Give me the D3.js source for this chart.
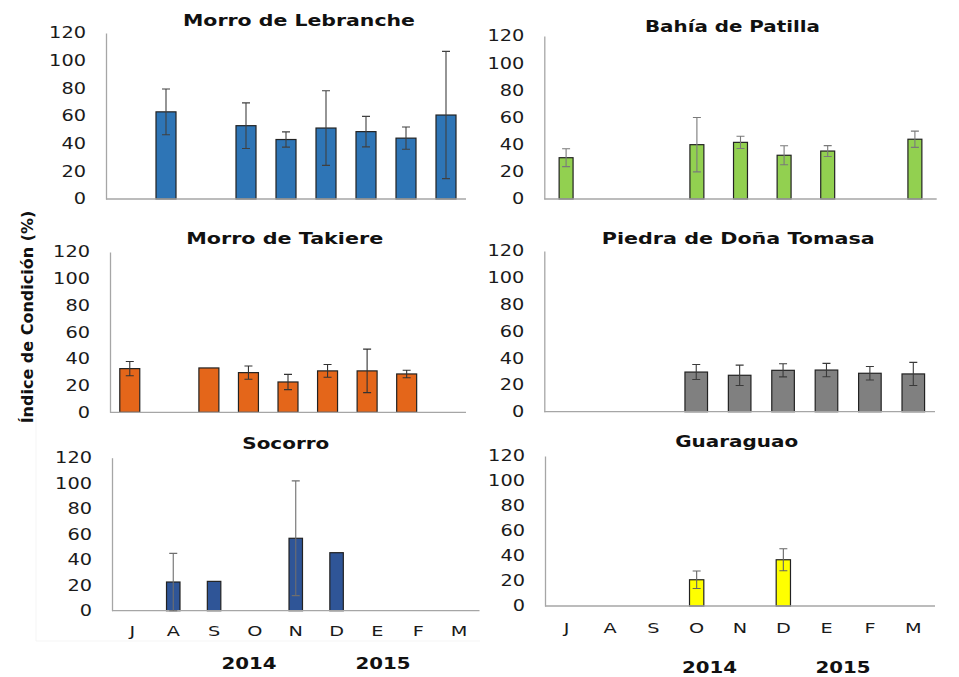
<!DOCTYPE html>
<html>
<head>
<meta charset="utf-8">
<script src="https://cdn.jsdelivr.net/npm/d3@7"></script>
<style>
  html, body { margin: 0; padding: 0; background: #fff; }
  svg { display: block; font-family: "DejaVu Sans", Verdana, sans-serif; }
</style>
</head>
<body>
<svg id="chart" width="959" height="677"></svg>
<script>
// Month categories (July 2014 – March 2015) and y ticks
const months = ["J", "A", "S", "O", "N", "D", "E", "F", "M"];
const yTicks = [0, 20, 40, 60, 80, 100, 120];
const years = ["2014", "2015"];

// Mean condition index (%) per month and its error (±), null = no sample
const lebrancheMean = [null, 63, null, 53, 43, 51.3, 48.7, 44, 60.7];
const lebrancheErr  = [null, 16.5, null, 16.5, 5.5, 27, 11, 8, 46];

const patillaMean = [30.4, null, null, 40, 41.7, 32.2, 35.3, null, 44];
const patillaErr  = [6.6, null, null, 20, 4.5, 7, 4, null, 6];

const takiereMean = [32.7, null, 33.2, 29.7, 22.7, 31, 31, 28.7, null];
const takiereErr  = [5.3, null, null, 5, 5.7, 4.8, 16.3, 2.8, null];

const tomasaMean = [null, null, null, 29.6, 27.2, 30.9, 31.1, 28.7, 28.2];
const tomasaErr  = [null, null, null, 5.6, 7.6, 4.9, 5, 5, 8.6];

const socorroMean = [null, 22.5, 23, null, 56.8, 45.5, null, null, null];
const socorroErr  = [null, 22.5, null, null, 45, null, null, null, null];

const guaraguaoMean = [null, null, null, 21, null, 37, null, null, null];
const guaraguaoErr  = [null, null, null, 7, null, 8.8, null, null, null];

// Panel layout and styling
const panels = [
  { title: "Morro de Lebranche", mean: lebrancheMean, err: lebrancheErr,
    fill: "#2E75B6", errColor: "#404040", x0: 106, x1: 466, yB: 199, yT: 33,
    barFrac: 0.5, titleX: 299, titleY: 26, titleW: 232 },
  { title: "Bahía de Patilla", mean: patillaMean, err: patillaErr,
    fill: "#92D050", errColor: "#7a7a7a", x0: 544.3, x1: 936.7, yB: 199, yT: 36,
    barFrac: 0.32, titleX: 732.5, titleY: 32, titleW: 175 },
  { title: "Morro de Takiere", mean: takiereMean, err: takiereErr,
    fill: "#E4661A", errColor: "#333333", x0: 110, x1: 466, yB: 412.3, yT: 252,
    barFrac: 0.505, titleX: 284.7, titleY: 244, titleW: 197 },
  { title: "Piedra de Doña Tomasa", mean: tomasaMean, err: tomasaErr,
    fill: "#808080", errColor: "#3a3a3a", x0: 544.3, x1: 935, yB: 411.7, yT: 251,
    barFrac: 0.52, titleX: 738.3, titleY: 244, titleW: 273 },
  { title: "Socorro", mean: socorroMean, err: socorroErr,
    fill: "#2F5597", errColor: "#6e6e6e", x0: 112, x1: 479.5, yB: 610.7, yT: 457.7,
    barFrac: 0.33, titleX: 285.8, titleY: 449.3, titleW: 87,
    monthPad: 15.5, yearX: [249, 383], yearY: 669 },
  { title: "Guaraguao", mean: guaraguaoMean, err: guaraguaoErr,
    fill: "#FFFF00", errColor: "#666666", x0: 545, x1: 935, yB: 606, yT: 456,
    barFrac: 0.33, titleX: 736.7, titleY: 446.7, titleW: 123,
    monthPad: 16.5, yearX: [709.5, 843], yearY: 673 }
];

const svg = d3.select("#chart");

// faint frame of the lower-left panel
svg.append("path")
  .attr("d", "M36,417V641H480")
  .attr("fill", "none")
  .attr("stroke", "#f5f5f5")
  .attr("stroke-width", 1);

panels.forEach(p => {
  const g = svg.append("g");
  const pad = 1 - p.barFrac;
  const x = d3.scaleBand().domain(months).range([p.x0, p.x1])
    .paddingInner(pad).paddingOuter(pad / 2);
  const y = d3.scaleLinear().domain([0, 120]).range([p.yB, p.yT]);

  const rows = months.map((m, i) => ({ m, v: p.mean[i], e: p.err[i] }))
    .filter(d => d.v != null);

  // y axis
  const ya = g.append("g")
    .attr("transform", `translate(${p.x0},0)`)
    .call(d3.axisLeft(y).tickValues(yTicks).tickSize(0).tickSizeOuter(0).tickPadding(20));
  ya.select(".domain").attr("stroke", "#a6a6a6").attr("stroke-width", 1.3);
  ya.selectAll("text")
    .attr("font-size", 15.5)
    .attr("font-family", "DejaVu Sans, sans-serif")
    .attr("fill", "#1a1a1a")
    .attr("textLength", d => String(d).length * 12.3)
    .attr("lengthAdjust", "spacingAndGlyphs");

  // bars
  g.selectAll("rect.bar").data(rows).join("rect")
    .attr("class", "bar")
    .attr("x", d => x(d.m))
    .attr("width", x.bandwidth())
    .attr("y", d => y(d.v))
    .attr("height", d => y(0) - y(d.v))
    .attr("fill", p.fill)
    .attr("stroke", "#222")
    .attr("stroke-width", 1.2);

  // x axis / baseline
  const xa = g.append("g")
    .attr("transform", `translate(0,${p.yB})`)
    .call(d3.axisBottom(x).tickSize(0).tickSizeOuter(0).tickPadding(p.monthPad || 0));
  xa.select(".domain").attr("stroke", "#a6a6a6").attr("stroke-width", 1.3)
    .attr("d", `M${p.x0},0H${p.x1}`);
  if (p.monthPad) {
    xa.selectAll("text")
      .attr("font-size", 14.5)
      .attr("font-family", "DejaVu Sans, sans-serif")
      .attr("fill", "#1a1a1a")
      .attr("transform", "scale(1.33,1)");
  } else {
    xa.selectAll(".tick").remove();
  }

  // error bars
  const eb = rows.filter(d => d.e != null);
  const cx = d => x(d.m) + x.bandwidth() / 2;
  const capW = 4;
  g.selectAll("path.err").data(eb).join("path")
    .attr("class", "err")
    .attr("d", d => {
      const hi = y(d.v + d.e), lo = y(Math.max(0, d.v - d.e)), c = cx(d);
      return `M${c},${hi}V${lo}M${c - capW},${hi}H${c + capW}M${c - capW},${lo}H${c + capW}`;
    })
    .attr("fill", "none")
    .attr("stroke", p.errColor)
    .attr("stroke-width", 1.1);

  // panel title
  g.append("text")
    .attr("x", p.titleX)
    .attr("y", p.titleY)
    .attr("text-anchor", "middle")
    .attr("font-size", 15)
    .attr("font-weight", "bold")
    .attr("fill", "#111")
    .attr("textLength", p.titleW)
    .attr("lengthAdjust", "spacingAndGlyphs")
    .text(p.title);

  // year labels under the month axis
  if (p.yearX) {
    g.selectAll("text.year").data(years).join("text")
      .attr("class", "year")
      .attr("x", (d, i) => p.yearX[i])
      .attr("y", p.yearY)
      .attr("text-anchor", "middle")
      .attr("font-size", 16)
      .attr("font-weight", "bold")
      .attr("fill", "#111")
      .attr("textLength", 55)
      .attr("lengthAdjust", "spacingAndGlyphs")
      .text(d => d);
  }
});

// shared y-axis title
svg.append("text")
  .attr("transform", "translate(33,317) rotate(-90)")
  .attr("text-anchor", "middle")
  .attr("font-size", 16)
  .attr("font-weight", "bold")
  .attr("fill", "#111")
  .text("Índice de Condición (%)");
</script>
</body>
</html>
